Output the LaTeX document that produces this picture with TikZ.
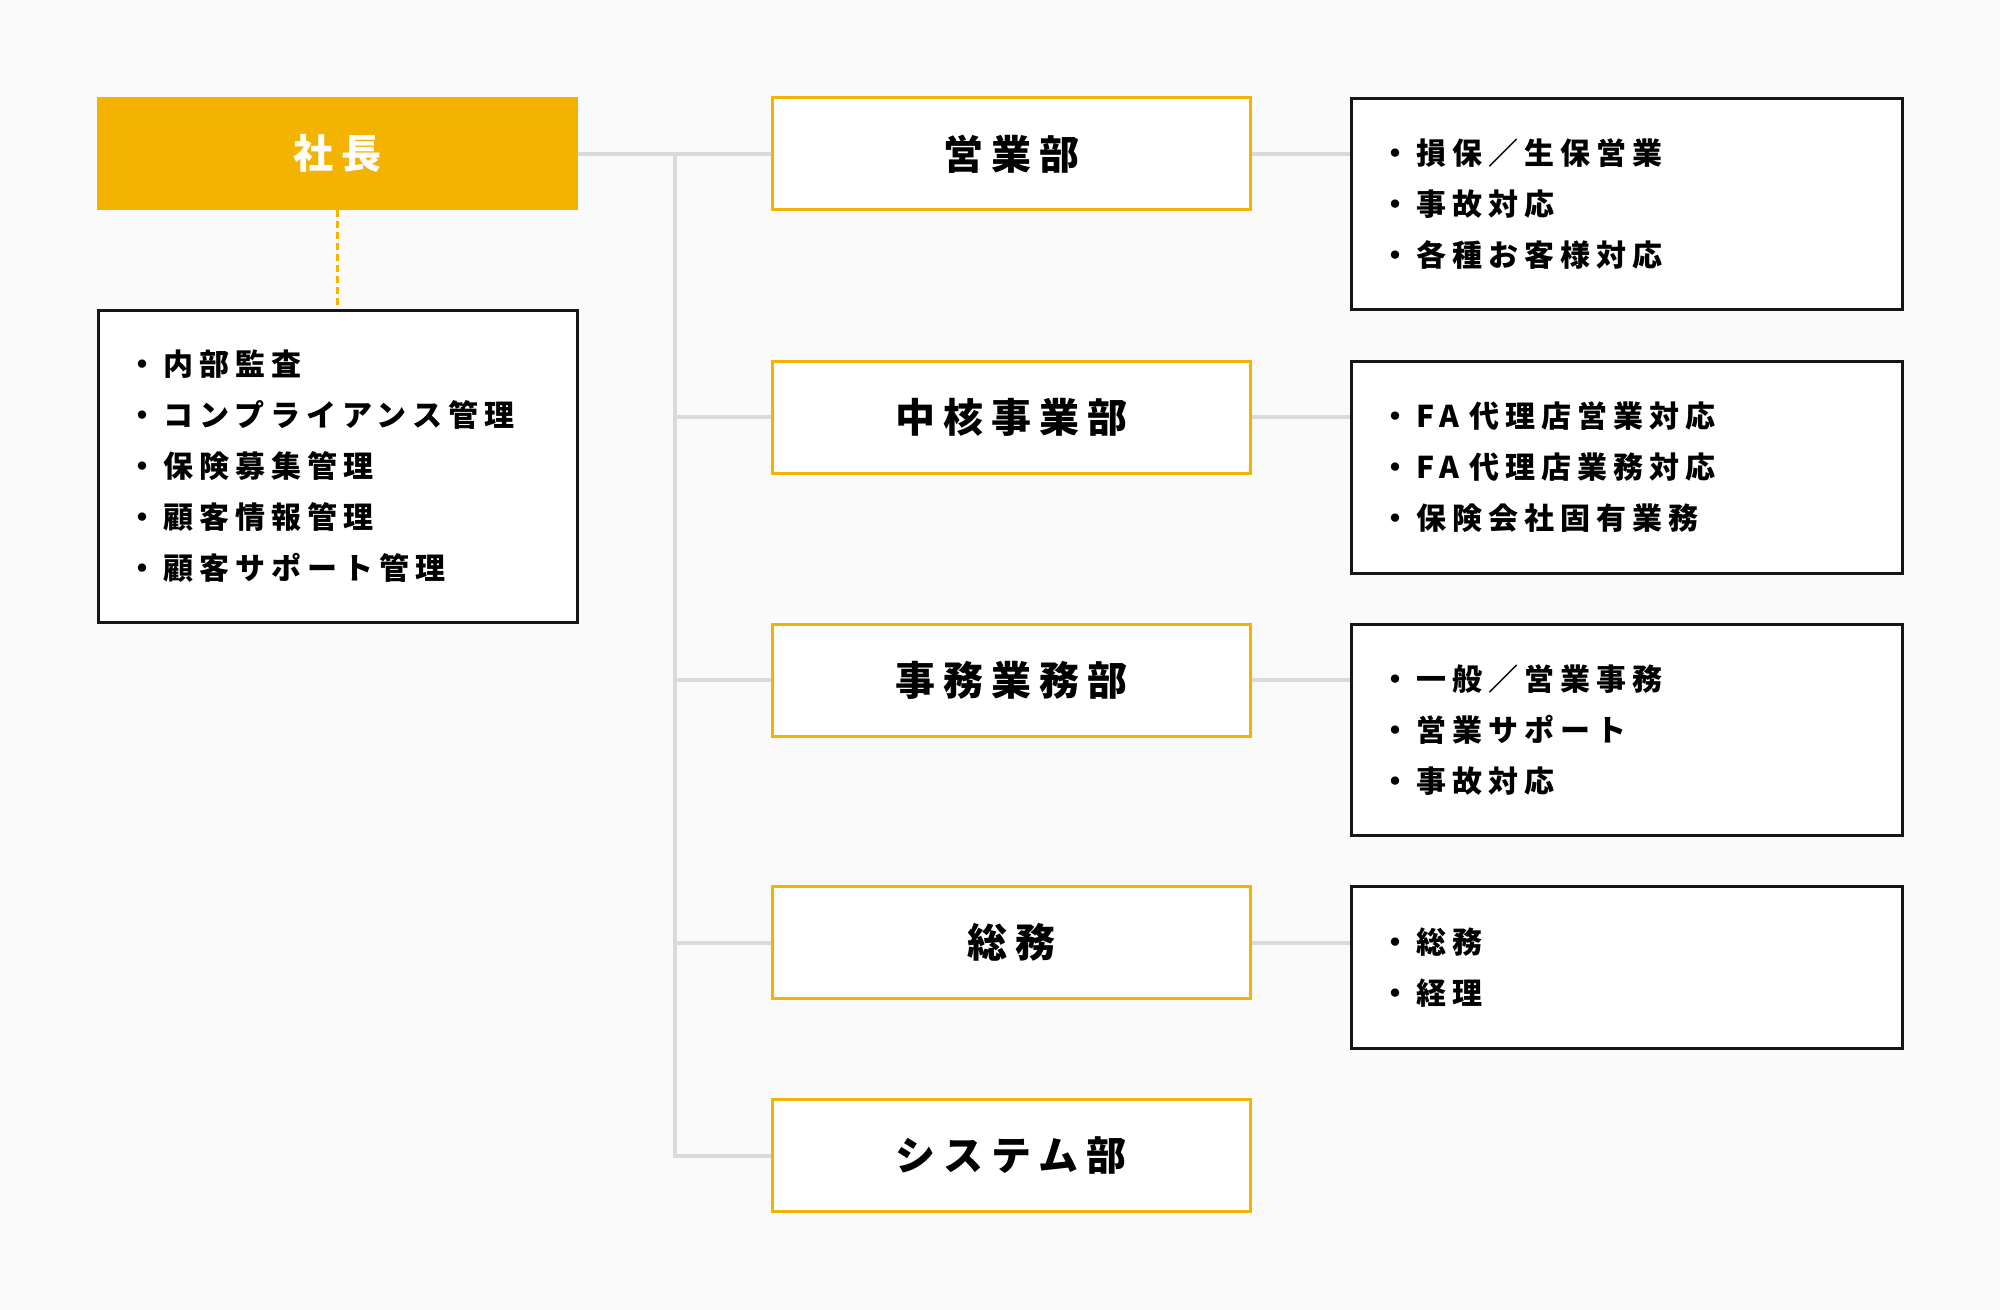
\documentclass[tikz,border=0pt]{standalone}
\usepackage{fontspec}
\newfontfamily\jp[LetterSpace=20]{Noto Sans CJK JP}
\definecolor{bgC}{HTML}{FAFAFA}
\definecolor{orangeC}{HTML}{F3B300}
\definecolor{lineC}{HTML}{DADADA}
\definecolor{boxC}{HTML}{151515}
\newcommand{\fatext}{F\kern2.5pt A\kern5.5pt 代理店}
\begin{document}
\begin{tikzpicture}[x=0.5pt,y=-0.5pt,
  conn/.style={draw=lineC,line width=2pt},
  dept/.style={draw=orangeC,line width=1.5pt,fill=white,minimum width=239pt,minimum height=56pt,inner sep=0pt,text=black,font=\jp\bfseries\fontsize{20pt}{24pt}\selectfont},
  pres/.style={fill=orangeC,minimum width=240.5pt,minimum height=56.5pt,inner sep=0pt,text=white,font=\jp\bfseries\fontsize{20pt}{24pt}\selectfont},
  listbox/.style={draw=boxC,line width=1.5pt,fill=white,inner xsep=14.5pt,inner ysep=0pt,align=left,text=black,font=\jp\bfseries\fontsize{15pt}{25.5pt}\selectfont},
  rlist/.style={listbox,minimum width=275.5pt,text width=246.5pt},
  llist/.style={listbox,minimum width=239.5pt,text width=210.5pt}]
\fill[bgC] (0,0) rectangle (2000,1310);
\useasboundingbox (0,0) rectangle (2000,1310);

\node[pres] (p) at (337.5,153.5) {社長};
\node[llist,minimum height=156pt] (L) at (337.5,466.5) {・内部監査\\・コンプライアンス管理\\・保険募集管理\\・顧客情報管理\\・顧客サポート管理};

\node[dept] (d1) at (1011,154) {営業部};
\node[dept] (d2) at (1011,417) {中核事業部};
\node[dept] (d3) at (1011,680) {事務業務部};
\node[dept] (d4) at (1011,942.5) {総務};
\node[dept] (d5) at (1011,1155.5) {システム部};

\node[rlist,minimum height=105.5pt] (r1) at (1626.5,204) {・損保／生保営業\\・事故対応\\・各種お客様対応};
\node[rlist,minimum height=106pt] (r2) at (1626.5,467.5) {・\fatext 営業対応\\・\fatext 業務対応\\・保険会社固有業務};
\node[rlist,minimum height=105.5pt] (r3) at (1626.5,730) {・一般／営業事務\\・営業サポート\\・事故対応};
\node[rlist,minimum height=81pt] (r4) at (1626.5,967.5) {・総務\\・経理};

\coordinate (tk) at (675,154);
\draw[conn] (p.east |- d1.west) -- (d1.west);
\draw[conn] (tk) |- (d5.west);
\draw[conn] (tk |- d2.west) -- (d2.west);
\draw[conn] (tk |- d3.west) -- (d3.west);
\draw[conn] (tk |- d4.west) -- (d4.west);

\draw[conn] (d1.east) -- (d1.east -| r1.west);
\draw[conn] (d2.east) -- (d2.east -| r2.west);
\draw[conn] (d3.east) -- (d3.east -| r3.west);
\draw[conn] (d4.east) -- (d4.east -| r4.west);

\draw[orangeC,line width=1.6pt,dash pattern=on 3.5pt off 2pt] (p.south) -- (L.north);
\end{tikzpicture}
\end{document}
